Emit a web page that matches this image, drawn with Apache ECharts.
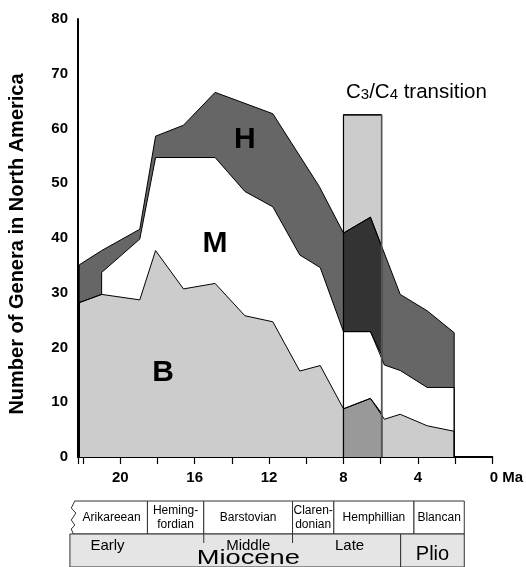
<!DOCTYPE html>
<html><head><meta charset="utf-8">
<script src="https://cdn.jsdelivr.net/npm/echarts@6/dist/echarts.min.js"></script>
<style>html,body{margin:0;padding:0;background:#fff}#c{width:526px;height:567px}</style>
</head><body><div id="c"></div>
<script>
// ---- data (Ma, number of genera) ----
const xTickLabels = [20, 16, 12, 8, 4, 0];
const hypsoTop = [[22.2,35.1],[21.0,37.7],[18.95,41.6],[18.1,58.6],[16.6,60.6],[14.9,66.6],[11.8,62.7],[9.3,49.4],[8.0,40.9],[6.55,43.8],[4.95,29.7],[3.5,26.7],[2.05,22.7]];
const mesoTop = [[22.2,28.2],[21.0,29.7],[21.0,33.7],[18.95,39.8],[18.1,54.7],[14.9,54.7],[13.3,48.5],[11.8,45.7],[10.35,36.9],[9.25,34.6],[8.0,22.9],[6.55,22.9],[5.8,16.8],[4.95,15.8],[3.5,12.7],[2.05,12.7]];
const brachyTop = [[22.2,28.2],[21.0,29.7],[18.95,28.7],[18.1,37.7],[16.6,30.7],[14.9,31.7],[13.3,25.8],[11.8,24.7],[10.35,15.7],[9.25,16.7],[8.0,8.8],[6.55,10.7],[5.8,6.9],[4.95,7.8],[3.5,5.7],[2.05,4.7]];
const transitionMa = [8.0, 5.95];
const transitionTop = 62.5;
const hypsoC4 = [[8.0,40.9],[6.55,43.8],[5.95,38.4]];
const mesoC4 = [[8.0,22.9],[6.55,22.9],[5.95,18.6]];
const brachyC4 = [[8.0,8.8],[6.55,10.7],[5.95,8.0]];
const bandLabels = ['H','M','B'];
const bandLabelPos = [[13.3,58.0],[14.9,38.9],[17.7,15.3]];
const transitionLabelPos = [4.08, 66.7];
const stageNames = ['Arikareean','Heming-\nfordian','Barstovian','Claren-\ndonian','Hemphillian','Blancan'];
const stageBounds = [22.6, 18.57, 15.57, 10.84, 8.64, 4.37, 1.69];
const epochNames = ['Miocene','Plio'];
const epochBounds = [22.7, 5.08, 1.69];
const mioceneCenter = 13.2;
const subEpochNames = ['Early','Middle','Late'];
const subEpochCenters = [20.7, 13.2, 7.8];
const subEpochBreaks = [15.57, 10.84];

const FONT = 'Liberation Sans, Arial, Helvetica, sans-serif';
function toBase(arr){ return [[arr[0][0],0]].concat(arr, [[arr[arr.length-1][0],0]]); }
function areaSeries(name, data, fill){
  return {type:'line', name, data: toBase(data), xAxisIndex:0, yAxisIndex:0,
    showSymbol:false, symbol:'none', smooth:false, animation:false, silent:true,
    lineStyle:{color:'#000', width:1}, areaStyle:{color:fill, opacity:1}};
}

const chart = echarts.init(document.getElementById('c'), null, {renderer:'canvas'});

function renderStage(params, api){
  const i = params.dataIndex;
  const a = api.coord([api.value(0), 0]);
  const b = api.coord([api.value(1), 1]);
  const x0=a[0], y0=a[1], x1=b[0], y1=b[1];
  const children = [];
  if (i === 0){
    children.push({type:'polygon', shape:{points:[[x1,y0],[x0+3,y0],[x0-0.5,y0+7],[x0+4,y0+12],[x0-0.5,y0+19],[x0+3,y0+24],[x0-0.5,y0+28],[x0+1.5,y1],[x1,y1]]},
      style:{fill:'#fff', stroke:'#333', lineWidth:1}});
  } else {
    children.push({type:'rect', shape:{x:x0,y:y0,width:x1-x0,height:y1-y0}, style:{fill:'#fff', stroke:'#333', lineWidth:1}});
  }
  children.push({type:'text', style:{text:stageNames[i], x:(x0+x1)/2+(i===0?2:0), y:(y0+y1)/2, align:'center', verticalAlign:'middle',
    font:'12px '+FONT, fill:'#000', lineHeight:14}});
  return {type:'group', children};
}
function renderEpoch(params, api){
  const i = params.dataIndex;
  const a = api.coord([api.value(0), 1]);
  const b = api.coord([api.value(1), 2]);
  const x0=a[0], y0=a[1], x1=b[0], y1=b[1];
  const children = [{type:'rect', shape:{x:x0,y:y0,width:x1-x0,height:y1-y0}, style:{fill:'#e5e5e5', stroke:'#333', lineWidth:1}}];
  if (i === 0){
    subEpochBreaks.forEach(v=>{ const p = api.coord([v,1]); children.push({type:'line', shape:{x1:p[0],y1:y0,x2:p[0],y2:y0+9}, style:{stroke:'#333', lineWidth:1}}); });
    subEpochNames.forEach((n,k)=>{ const p = api.coord([subEpochCenters[k],1]);
      children.push({type:'text', style:{text:n, x:p[0], y:y0+12, align:'center', verticalAlign:'middle', font:'15px '+FONT, fill:'#000'}}); });
    const m = api.coord([mioceneCenter,1]);
    children.push({type:'text', x:m[0], y:y0+24.5, scaleX:1.3, scaleY:1,
      style:{text:epochNames[0], x:0, y:0, align:'center', verticalAlign:'middle', font:'21px '+FONT, fill:'#000'}});
  } else {
    children.push({type:'text', style:{text:epochNames[i], x:(x0+x1)/2, y:y0+20, align:'center', verticalAlign:'middle', font:'20px '+FONT, fill:'#000'}});
  }
  return {type:'group', children};
}

const option = {
  animation:false,
  textStyle:{fontFamily:FONT},
  grid:[
    {left:78, right:30, top:19, bottom:110, containLabel:false},
    {left:78, right:30, top:501, height:68, containLabel:false}
  ],
  xAxis:[
    {type:'value', gridIndex:0, min:0, max:22.27, interval:2, inverse:true,
     axisLine:{show:true, onZero:true, lineStyle:{color:'#000', width:2}},
     axisTick:{show:true, length:7, lineStyle:{color:'#000', width:1.2}},
     splitLine:{show:false},
     axisLabel:{margin:13, color:'#000', fontWeight:'bold', fontSize:15, fontFamily:FONT,
       formatter:v=> xTickLabels.indexOf(v) < 0 ? '' : (v===0 ? '{z|0 Ma}' : String(v)),
       rich:{z:{fontWeight:'bold', fontSize:15, fontFamily:FONT, color:'#000', padding:[0,0,0,28]}}}},
    {type:'value', gridIndex:1, min:0, max:22.27, inverse:true, show:false}
  ],
  yAxis:[
    {type:'value', gridIndex:0, min:0, max:80, interval:10,
     axisLine:{show:true, onZero:false, lineStyle:{color:'#000', width:2}},
     axisTick:{show:false}, splitLine:{show:false},
     axisLabel:{margin:10, color:'#000', fontWeight:'bold', fontSize:15, fontFamily:FONT}},
    {type:'value', gridIndex:1, min:0, max:2, inverse:true, show:false}
  ],
  series:[
    areaSeries('Hypsodont', hypsoTop, '#666666'),
    areaSeries('Mesodont', mesoTop, '#ffffff'),
    areaSeries('Brachydont', brachyTop, '#cccccc'),
    areaSeries('Transition', [[transitionMa[0],transitionTop],[transitionMa[1],transitionTop]], '#cccccc'),
    areaSeries('Hypsodont C4', hypsoC4, '#333333'),
    areaSeries('Mesodont C4', mesoC4, '#ffffff'),
    areaSeries('Brachydont C4', brachyC4, '#999999'),
    {type:'line', data:[[transitionMa[0],0],[transitionMa[0],transitionTop],[transitionMa[1],transitionTop]], showSymbol:false, symbol:'none', silent:true, lineStyle:{color:'#000', width:1.2}},
    {type:'line', data:[[transitionMa[1],transitionTop],[transitionMa[1],0]], showSymbol:false, symbol:'none', silent:true, lineStyle:{color:'#555', width:1.5}},
    {type:'custom', xAxisIndex:1, yAxisIndex:1, clip:false, silent:true,
     data: stageNames.map((n,i)=>[stageBounds[i], stageBounds[i+1]]), encode:{x:[0,1]}, renderItem:renderStage},
    {type:'custom', xAxisIndex:1, yAxisIndex:1, clip:false, silent:true,
     data: epochNames.map((n,i)=>[epochBounds[i], epochBounds[i+1]]), encode:{x:[0,1]}, renderItem:renderEpoch}
  ]
};
chart.setOption(option);

// band letters, transition label and axis title, positioned through the chart's own coordinate system
const graphics = bandLabels.map((t,i)=>{
  const p = chart.convertToPixel({gridIndex:0}, bandLabelPos[i]);
  return {type:'text', x:p[0], y:p[1], z:100,
    style:{text:t, align:'center', verticalAlign:'middle', font:'bold 30px '+FONT, fill:'#000'}};
});
const tp = chart.convertToPixel({gridIndex:0}, transitionLabelPos);
graphics.push({type:'text', x:tp[0], y:tp[1], z:100,
  style:{text:'{a|C}{s|3}{a|/C}{s|4}{a| transition}', align:'center', verticalAlign:'middle', fill:'#000',
    rich:{a:{fontSize:20.5, fontFamily:FONT, fill:'#000', lineHeight:22, verticalAlign:'bottom'},
          s:{fontSize:15, fontFamily:FONT, fill:'#000', lineHeight:19, verticalAlign:'bottom'}}}});
graphics.push({type:'text', x:17, y:244, rotation:Math.PI/2, z:100,
  style:{text:'Number of Genera in North America', align:'center', verticalAlign:'middle', font:'bold 20px '+FONT, fill:'#000'}});
chart.setOption({graphic:graphics});
</script></body></html>
